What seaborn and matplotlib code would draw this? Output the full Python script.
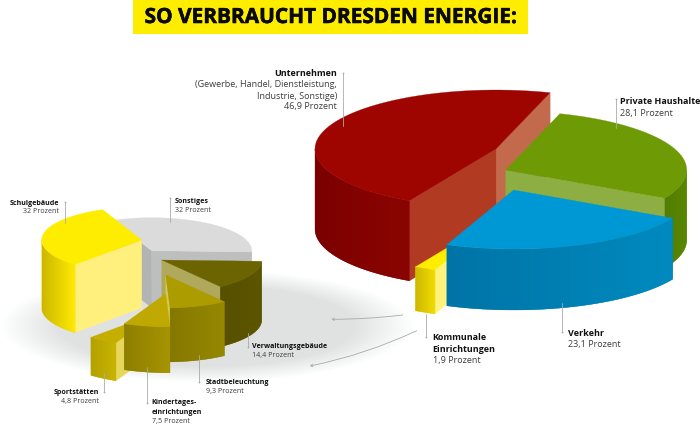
import numpy as np
import matplotlib
matplotlib.use("Agg")
import matplotlib.pyplot as plt
import matplotlib.patheffects as pe
from matplotlib.patches import Ellipse, Rectangle, Polygon
import seaborn as sns

# ---- data ----
TITLE = "SO VERBRAUCHT DRESDEN ENERGIE:"
big_names = ["Unternehmen", "Kommunale Einrichtungen", "Verkehr", "Private Haushalte"]
big_values = [46.9, 1.9, 23.1, 28.1]
small_names = ["Schulgebäude", "Sportstätten", "Kindertageseinrichtungen",
               "Stadtbeleuchtung", "Verwaltungsgebäude", "Sonstiges"]
small_values = [32, 4.8, 7.5, 9.3, 14.4, 32]

# ---- layout / style ----
BIG = dict(start=72.6, rx=181, ry=59)
SMALL = dict(start=113.0, rx=100, ry=33)
big_style = {
    "Unternehmen": dict(apex=(496, 149), h=80, top="#9E0500", wall=("#7C0000", "#8A0500"),
                        cut_a1="#C46A4C", cut_a2="#B03A22"),
    "Kommunale Einrichtungen": dict(apex=(502, 215), h=44, top="#FFED00", wall=("#CDB800", "#F0DC00"),
                                    cut_a1="#FFF37D", cut_a2="#FFF37D"),
    "Verkehr": dict(apex=(513.7, 190), h=61, top="#0098D4", wall=("#0074A6", "#008ABF"),
                    cut_a1="#0087BC", cut_a2="#0087BC"),
    "Private Haushalte": dict(apex=(505.7, 170), h=70, top="#6E9B05", wall=("#527D00", "#5A8800"),
                              cut_a1="#8CAE42", cut_a2="#8CAE42"),
}
big_order = ["Unternehmen", "Private Haushalte", "Kommunale Einrichtungen", "Verkehr"]
small_style = {
    "Schulgebäude": dict(apex=(141.7, 240), h=68, top="#FFED00", wall=("#CDB800", "#FFEB00"),
                         cut_a1="#FFF07D", cut_a2="#FFF07D"),
    "Sportstätten": dict(apex=(157.5, 312.7), h=38, top="#C4AE00", wall=("#B5A200", "#C8B400"),
                         cut_a1="#E6D65A", cut_a2="#E6D65A"),
    "Kindertageseinrichtungen": dict(apex=(165.7, 293.7), h=46, top="#BFA900", wall=("#8E7F00", "#A69400"),
                                     cut_a1="#DCCB50", cut_a2="#DCCB50"),
    "Stadtbeleuchtung": dict(apex=(165.7, 275), h=54, top="#AD9C00", wall=("#857800", "#968800"),
                             cut_a1="#D6C850", cut_a2="#D6C850"),
    "Verwaltungsgebäude": dict(apex=(161.7, 260), h=60, top="#6B6400", wall=("#565000", "#5C5600"),
                               cut_a1="#B0A85A", cut_a2="#B0A85A"),
    "Sonstiges": dict(apex=(151.7, 250.7), h=57, top="#DADBDA", wall=("#BBBCBC", "#BBBCBC"),
                      cut_a1="#BDBEBE", cut_a2="#B2B4B4"),
}
small_order = ["Sonstiges", "Schulgebäude", "Verwaltungsgebäude", "Stadtbeleuchtung",
               "Sportstätten", "Kindertageseinrichtungen"]

labels = [
    (337, [73, 84, 96, 106], "right", ["Unternehmen", "(Gewerbe, Handel, Dienstleistung,",
                                        "Industrie, Sonstige)", "46,9 Prozent"], 1, 6.5),
    (620, [101, 113], "left", ["Private Haushalte", "28,1 Prozent"], 1, 6.5),
    (568, [333, 344], "left", ["Verkehr", "23,1 Prozent"], 1, 6.5),
    (432.7, [338, 349, 360], "left", ["Kommunale", "Einrichtungen", "1,9 Prozent"], 2, 6.5),
    (58.7, [203, 211.5], "right", ["Schulgebäude", "32 Prozent"], 1, 5.1),
    (174.7, [201, 210], "left", ["Sonstiges", "32 Prozent"], 1, 5.1),
    (252, [347, 356], "left", ["Verwaltungsgebäude", "14,4 Prozent"], 1, 5.1),
    (205.7, [382, 391], "left", ["Stadtbeleuchtung", "9,3 Prozent"], 1, 5.1),
    (151.7, [403, 412, 421], "left", ["Kindertages-", "einrichtungen", "7,5 Prozent"], 2, 5.1),
    (99, [392, 401], "right", ["Sportstätten", "4,8 Prozent"], 1, 5.1),
]
leaders = [(343.3, 73, 126), (616, 99, 128), (562, 303, 332), (425.7, 314, 337),
           (65, 202, 223), (170, 198, 222), (248, 333, 347), (198.7, 355, 382),
           (146.7, 367, 403), (104, 373, 392)]
leader_dot_top = [True, True, False, False, True, True, False, False, False, False]


def draw_pie(ax, names, values, order, styles, geom, z0):
    angles = geom["start"] + np.cumsum([0] + list(values)) * 3.6
    rx, ry = geom["rx"], geom["ry"]
    z = z0
    for name in order:
        i = names.index(name)
        a1, a2 = angles[i], angles[i + 1]
        st = styles[name]
        cx, cy = st["apex"]
        h = st["h"]

        def pt(a):
            r = np.radians(a)
            return cx + rx * np.cos(r), cy - ry * np.sin(r)

        # flat cut walls
        for a, col, visible in ((a1, st["cut_a1"], np.cos(np.radians(a1)) > 0),
                                (a2, st["cut_a2"], np.cos(np.radians(a2)) < 0)):
            if visible:
                x, y = pt(a)
                ax.fill([cx, x, x, cx], [cy, y, y + h, cy + h], color=col, lw=0.2, zorder=z)
                z += 1
        # curved outer wall, only its front part, with a left-to-right gradient
        for k in (0, 1):
            lo, hi = max(a1, 180 + 360 * k), min(a2, 360 + 360 * k)
            if hi <= lo:
                continue
            t = np.linspace(lo, hi, 120)
            xs, ys = pt(t)
            outline = np.c_[np.r_[xs, xs[::-1]], np.r_[ys, ys[::-1] + h]]
            pal = np.array(sns.blend_palette(st["wall"], 64))[:, :3]
            ax.add_patch(Polygon(outline, closed=True, color=pal[32], lw=0.2, zorder=z))
            z += 1
            im = ax.imshow(pal[None, :, :], extent=(xs.min(), xs.max(), ys.max() + h, ys.min()),
                           aspect="auto", interpolation="bilinear", zorder=z)
            im.set_clip_path(Polygon(outline, closed=True, transform=ax.transData))
            z += 1
        # top face
        t = np.linspace(a1, a2, 200)
        xs, ys = pt(t)
        ax.fill(np.r_[cx, xs], np.r_[cy, ys], color=st["top"], lw=0.2, zorder=z)
        z += 1
    return z


sns.set_theme(style="white")
plt.rcParams["font.family"] = ["Open Sans", "DejaVu Sans"]
fig = plt.figure(figsize=(7, 4.25), dpi=100)
ax = fig.add_axes([0, 0, 1, 1])
ax.axis("off")

# soft ground shadow under the small pie
for w in np.linspace(1.0, 0.72, 30):
    ax.add_patch(Ellipse((207, 326), 412 * w, 112 * w, color="#7F8480", alpha=0.0075, lw=0, zorder=1))

draw_pie(ax, small_names, small_values, small_order, small_style, SMALL, 10)
draw_pie(ax, big_names, big_values, big_order, big_style, BIG, 60)

# title band
ax.add_patch(Rectangle((133, 0), 395, 34, color="#FFED00", lw=0, zorder=120))
ax.text(331, 17.5, TITLE, ha="center", va="center", fontsize=15.0, fontweight="bold",
        color="#0A0A0A", zorder=121,
        path_effects=[pe.withStroke(linewidth=0.4, foreground="#0A0A0A")])

# leaders
for (x, y0, y1), top in zip(leaders, leader_dot_top):
    ax.plot([x, x], [y0, y1], color="#A9ABAA", lw=0.6, zorder=122)
    ax.plot([x], [y0 if top else y1], "o", ms=1.3, color="#A9ABAA", mew=0, zorder=122)

# links between the two pies
for start, end, rad in (((402.7, 315), (331.7, 319.3), -0.03), ((416.7, 330.7), (310, 366), -0.06)):
    ax.annotate("", xy=end, xytext=start, zorder=122,
                arrowprops=dict(arrowstyle="->,head_length=0.12,head_width=0.08", color="#A9ABAA", lw=0.6,
                                connectionstyle=f"arc3,rad={rad}", shrinkA=0, shrinkB=0))

# labels
for x, ys, ha, lines, nbold, fs in labels:
    for n, (y, line) in enumerate(zip(ys, lines)):
        ax.text(x, y, line, ha=ha, va="center", fontsize=fs,
                fontweight="bold" if n < nbold else "normal",
                color="#111111" if n < nbold else "#3C3C3C", zorder=123)

ax.set_xlim(0, 700)
ax.set_ylim(425, 0)
fig.savefig("out.png", dpi=100, facecolor="white")
